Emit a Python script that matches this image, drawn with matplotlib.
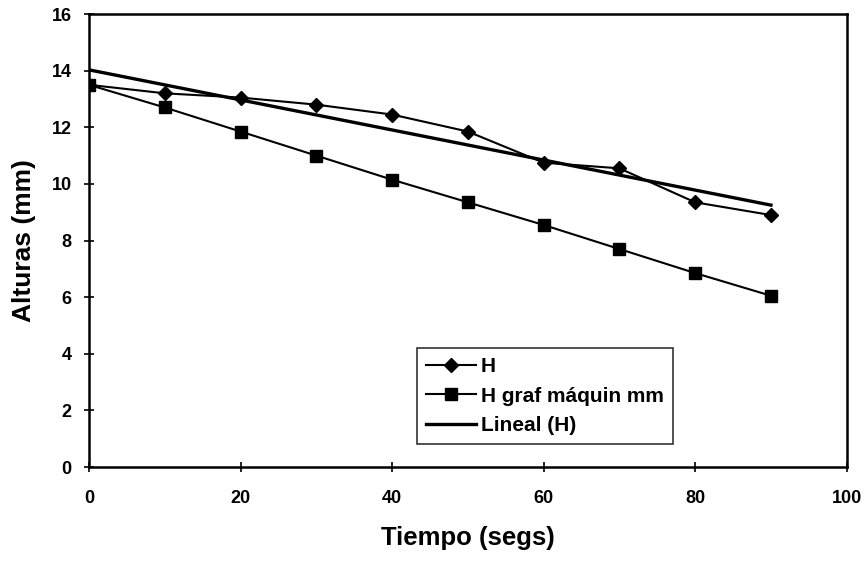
import matplotlib
matplotlib.use("Agg")
import matplotlib.pyplot as plt
import numpy as np

plt.rcParams['font.family'] = ['Liberation Sans', 'DejaVu Sans']
plt.rcParams['font.weight'] = 'bold'

tiempo = [0, 10, 20, 30, 40, 50, 60, 70, 80, 90]
h = [13.5, 13.2, 13.05, 12.8, 12.45, 11.85, 10.75, 10.55, 9.35, 8.9]
h_graf = [13.5, 12.7, 11.85, 11.0, 10.15, 9.35, 8.55, 7.7, 6.85, 6.05]

# linear trendline of H, as in the spreadsheet
slope, intercept = np.polyfit(tiempo, h, 1)
trend_x = np.array([tiempo[0], tiempo[-1]])
trend_y = slope * trend_x + intercept

fig = plt.figure(figsize=(8.64, 5.62), dpi=100)
ax = fig.add_axes([0.103, 0.169, 0.877, 0.806])

ax.plot(tiempo, h, color='black', lw=1.5, marker='D', markersize=7, label='H')
ax.plot(tiempo, h_graf, color='black', lw=1.5, marker='s', markersize=8, label='H graf máquin mm')
ax.plot(trend_x, trend_y, color='black', lw=2.4, label='Lineal (H)')

ax.set_xlim(0, 100)
ax.set_ylim(0, 16)
ax.set_xticks(range(0, 101, 20))
ax.set_yticks(range(0, 17, 2))
ax.tick_params(direction='inout', length=7, width=1.2, labelsize=13)
ax.tick_params(axis='x', pad=13)
ax.tick_params(axis='y', pad=9)
for s in ax.spines.values():
    s.set_linewidth(1.8)

ax.set_xlabel('Tiempo (segs)', fontsize=18.5, fontweight='bold', labelpad=14)
ax.set_ylabel('Alturas (mm)', fontsize=19, fontweight='bold', labelpad=11)

leg = ax.legend(loc='lower left', bbox_to_anchor=(0.433, 0.05), fontsize=15,
                frameon=True, fancybox=False, edgecolor='black', handlelength=2.4,
                handletextpad=0.2, borderpad=0.45, labelspacing=0.5, borderaxespad=0)
leg.get_frame().set_linewidth(1.2)

fig.savefig('out.png', dpi=100)
